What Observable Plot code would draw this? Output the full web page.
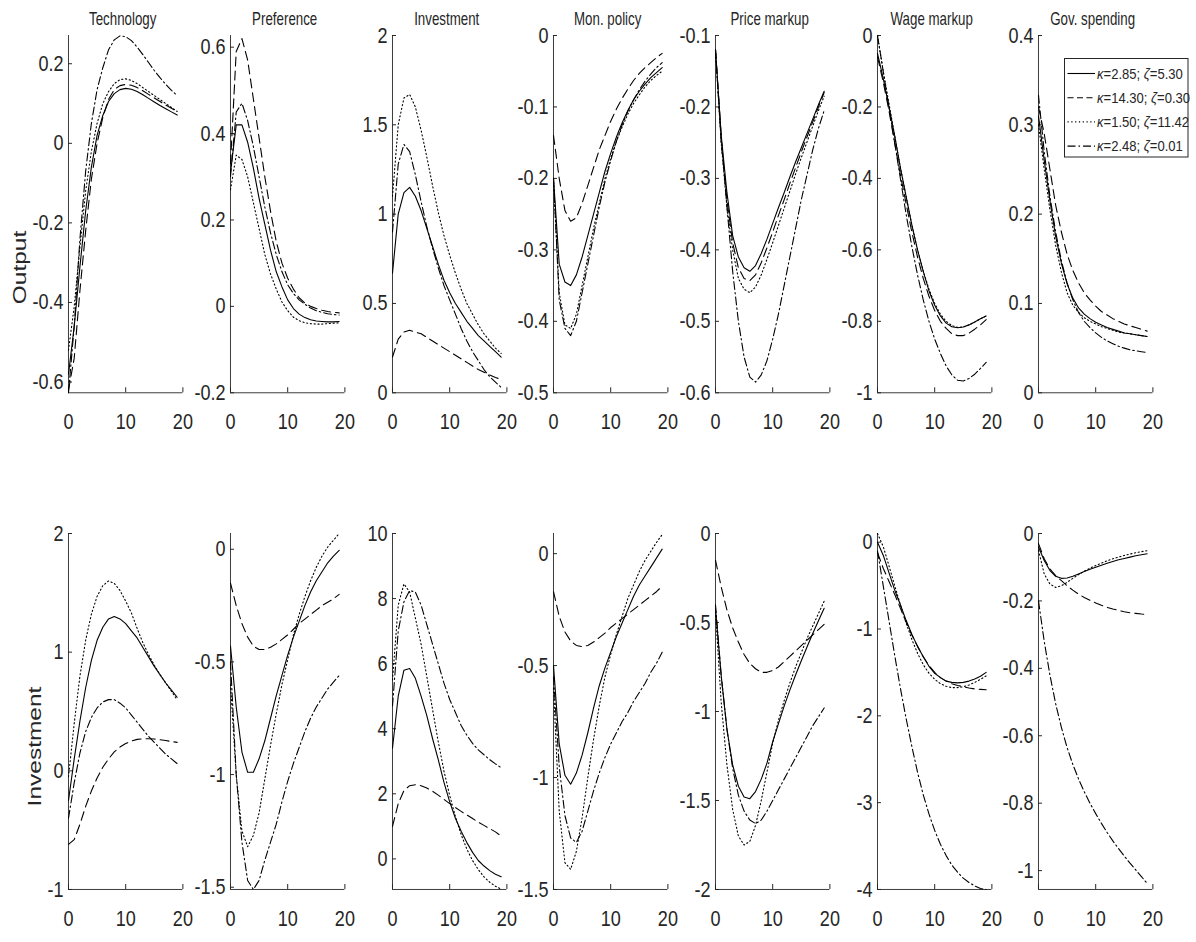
<!DOCTYPE html>
<html>
<head>
<meta charset="utf-8">
<script src="https://cdn.jsdelivr.net/npm/d3@7"></script>
<script src="https://cdn.jsdelivr.net/npm/@observablehq/plot@0.6"></script>
<style>
  html, body { margin: 0; padding: 0; background: #fff; }
  #fig { position: relative; width: 1196px; height: 942px; overflow: hidden; background: #fff; }
</style>
</head>
<body>
<div id="fig"></div>
<script>
// ---------------- data ----------------
const periods = [0,1,2,3,4,5,6,7,8,9,10,11,12,13,14,15,16,17,18,19];
const shocks = ["Technology","Preference","Investment","Mon. policy","Price markup","Wage markup","Gov. spending"];
const rowVariables = ["Output","Investment"];
const kappaValues = ["2.85","14.30","1.50","2.48"];
const zetaValues = ["5.30","0.30","11.42","0.01"];
const xTicks = [0,10,20];

const outputYDomains = [[-0.627,0.271],[-0.2,0.627],[0,2],[-0.5,0],[-0.6,-0.1],[-1,0],[0,0.4]];
const outputYTicks = [[-0.6,-0.4,-0.2,0,0.2],[-0.2,0,0.2,0.4,0.6],[0,0.5,1,1.5,2],[-0.5,-0.4,-0.3,-0.2,-0.1,0],[-0.6,-0.5,-0.4,-0.3,-0.2,-0.1],[-1,-0.8,-0.6,-0.4,-0.2,0],[0,0.1,0.2,0.3,0.4]];
const investmentYDomains = [[-1,2],[-1.51,0.07],[-0.94,10],[-1.5,0.09],[-2,0],[-4,0.1],[-1.056,0]];
const investmentYTicks = [[-1,0,1,2],[-1.5,-1,-0.5,0],[0,2,4,6,8,10],[-1.5,-1,-0.5,0],[-2,-1.5,-1,-0.5,0],[-4,-3,-2,-1,0],[-1,-0.8,-0.6,-0.4,-0.2,0]];

// each panel: [kappa=2.85 (solid), kappa=14.30 (dashed), kappa=1.50 (dotted), kappa=2.48 (dash-dot)]
const outputTechnology = [
  [-0.58,-0.46,-0.31,-0.17,-0.06,0.02,0.07,0.105,0.125,0.135,0.138,0.136,0.130,0.122,0.113,0.104,0.095,0.087,0.079,0.071],
  [-0.62,-0.54,-0.37,-0.22,-0.09,0.0,0.065,0.11,0.135,0.145,0.148,0.146,0.140,0.132,0.123,0.114,0.105,0.096,0.088,0.080],
  [-0.52,-0.41,-0.26,-0.12,-0.02,0.05,0.10,0.13,0.15,0.16,0.162,0.158,0.150,0.140,0.130,0.120,0.110,0.100,0.090,0.080],
  [-0.627,-0.46,-0.24,-0.07,0.05,0.135,0.19,0.235,0.26,0.27,0.268,0.258,0.242,0.223,0.203,0.183,0.165,0.148,0.133,0.120]
];
const outputPreference = [
  [0.31,0.42,0.42,0.38,0.32,0.25,0.19,0.13,0.08,0.045,0.015,-0.005,-0.018,-0.026,-0.031,-0.034,-0.035,-0.036,-0.036,-0.035],
  [0.33,0.59,0.62,0.57,0.48,0.39,0.30,0.22,0.15,0.10,0.065,0.04,0.02,0.008,0.0,-0.005,-0.009,-0.012,-0.014,-0.015],
  [0.27,0.35,0.34,0.30,0.24,0.18,0.12,0.075,0.04,0.01,-0.01,-0.025,-0.033,-0.038,-0.04,-0.041,-0.041,-0.040,-0.039,-0.038],
  [0.30,0.45,0.47,0.43,0.37,0.30,0.23,0.17,0.12,0.08,0.05,0.03,0.015,0.005,-0.004,-0.01,-0.014,-0.017,-0.019,-0.02]
];
const outputInvestment = [
  [0.67,1.0,1.12,1.15,1.10,1.02,0.92,0.82,0.72,0.63,0.56,0.50,0.45,0.40,0.36,0.32,0.29,0.26,0.23,0.20],
  [0.20,0.30,0.34,0.35,0.34,0.33,0.31,0.29,0.27,0.25,0.23,0.21,0.19,0.17,0.15,0.13,0.115,0.10,0.085,0.075],
  [1.10,1.50,1.65,1.67,1.60,1.47,1.32,1.16,1.01,0.88,0.77,0.67,0.58,0.50,0.44,0.38,0.33,0.29,0.25,0.22],
  [0.90,1.28,1.39,1.35,1.22,1.07,0.93,0.81,0.70,0.60,0.52,0.44,0.36,0.29,0.23,0.18,0.13,0.09,0.06,0.03]
];
const outputMonPolicy = [
  [-0.20,-0.32,-0.345,-0.35,-0.335,-0.31,-0.28,-0.25,-0.22,-0.19,-0.165,-0.142,-0.122,-0.105,-0.09,-0.078,-0.068,-0.059,-0.052,-0.045],
  [-0.14,-0.20,-0.245,-0.26,-0.255,-0.235,-0.21,-0.185,-0.16,-0.14,-0.12,-0.103,-0.088,-0.075,-0.063,-0.053,-0.045,-0.038,-0.031,-0.025],
  [-0.20,-0.36,-0.405,-0.41,-0.39,-0.35,-0.31,-0.27,-0.235,-0.20,-0.172,-0.148,-0.128,-0.11,-0.095,-0.083,-0.072,-0.063,-0.056,-0.05],
  [-0.20,-0.37,-0.41,-0.42,-0.40,-0.36,-0.32,-0.28,-0.24,-0.205,-0.175,-0.148,-0.125,-0.106,-0.09,-0.076,-0.064,-0.054,-0.045,-0.038]
];
const outputPriceMarkup = [
  [-0.12,-0.24,-0.32,-0.38,-0.41,-0.425,-0.43,-0.422,-0.405,-0.385,-0.363,-0.341,-0.32,-0.298,-0.277,-0.257,-0.237,-0.217,-0.197,-0.178],
  [-0.12,-0.25,-0.33,-0.39,-0.425,-0.44,-0.443,-0.435,-0.418,-0.397,-0.375,-0.352,-0.33,-0.307,-0.285,-0.263,-0.242,-0.221,-0.20,-0.18],
  [-0.12,-0.25,-0.34,-0.40,-0.44,-0.455,-0.46,-0.452,-0.435,-0.413,-0.39,-0.366,-0.342,-0.318,-0.294,-0.271,-0.249,-0.227,-0.205,-0.185],
  [-0.12,-0.24,-0.34,-0.43,-0.50,-0.55,-0.578,-0.585,-0.575,-0.555,-0.525,-0.49,-0.45,-0.41,-0.37,-0.33,-0.295,-0.26,-0.23,-0.205]
];
const outputWageMarkup = [
  [-0.05,-0.12,-0.20,-0.28,-0.37,-0.45,-0.53,-0.60,-0.66,-0.715,-0.755,-0.785,-0.805,-0.815,-0.818,-0.816,-0.81,-0.802,-0.793,-0.785],
  [-0.06,-0.13,-0.21,-0.30,-0.39,-0.47,-0.55,-0.62,-0.68,-0.73,-0.77,-0.80,-0.82,-0.835,-0.84,-0.84,-0.833,-0.822,-0.81,-0.795],
  [0.0,-0.10,-0.19,-0.28,-0.37,-0.45,-0.53,-0.60,-0.66,-0.71,-0.75,-0.78,-0.80,-0.812,-0.817,-0.816,-0.81,-0.802,-0.793,-0.785],
  [0.0,-0.10,-0.20,-0.30,-0.40,-0.50,-0.59,-0.67,-0.74,-0.80,-0.85,-0.89,-0.925,-0.95,-0.965,-0.967,-0.96,-0.948,-0.932,-0.915]
];
const outputGovSpending = [
  [0.31,0.26,0.215,0.175,0.145,0.122,0.106,0.095,0.088,0.083,0.079,0.076,0.073,0.071,0.069,0.067,0.066,0.065,0.064,0.063],
  [0.32,0.29,0.25,0.21,0.18,0.155,0.137,0.123,0.112,0.104,0.097,0.091,0.087,0.083,0.08,0.077,0.075,0.073,0.071,0.069],
  [0.30,0.25,0.205,0.165,0.135,0.112,0.098,0.09,0.084,0.08,0.077,0.074,0.072,0.07,0.068,0.067,0.066,0.065,0.064,0.063],
  [0.333,0.27,0.22,0.18,0.148,0.123,0.104,0.09,0.08,0.073,0.067,0.062,0.058,0.055,0.052,0.05,0.048,0.047,0.046,0.045]
];

const investmentTechnology = [
  [-0.25,0.10,0.42,0.70,0.93,1.10,1.21,1.28,1.30,1.28,1.24,1.18,1.12,1.04,0.96,0.88,0.81,0.74,0.68,0.62],
  [-0.62,-0.58,-0.45,-0.30,-0.17,-0.06,0.03,0.10,0.16,0.20,0.23,0.25,0.265,0.27,0.27,0.268,0.262,0.255,0.247,0.24],
  [-0.05,0.40,0.80,1.10,1.32,1.47,1.56,1.60,1.58,1.52,1.43,1.33,1.20,1.08,0.98,0.89,0.81,0.74,0.67,0.60],
  [-0.40,-0.10,0.15,0.33,0.45,0.53,0.58,0.60,0.60,0.57,0.53,0.47,0.41,0.35,0.29,0.24,0.19,0.14,0.10,0.06]
];
const investmentPreference = [
  [-0.43,-0.70,-0.90,-0.99,-0.99,-0.93,-0.85,-0.75,-0.65,-0.56,-0.47,-0.39,-0.32,-0.25,-0.19,-0.14,-0.10,-0.06,-0.03,-0.005],
  [-0.15,-0.25,-0.33,-0.39,-0.43,-0.445,-0.445,-0.435,-0.42,-0.40,-0.38,-0.355,-0.33,-0.31,-0.29,-0.27,-0.25,-0.235,-0.22,-0.20],
  [-0.60,-1.00,-1.25,-1.32,-1.27,-1.17,-1.02,-0.87,-0.73,-0.60,-0.49,-0.38,-0.29,-0.21,-0.14,-0.08,-0.03,0.01,0.04,0.07],
  [-0.50,-1.00,-1.30,-1.47,-1.51,-1.47,-1.38,-1.30,-1.22,-1.12,-1.03,-0.95,-0.88,-0.81,-0.75,-0.70,-0.66,-0.62,-0.59,-0.56]
];
const investmentInvestment = [
  [3.4,5.0,5.8,5.85,5.55,5.0,4.4,3.7,3.05,2.35,1.75,1.25,0.85,0.5,0.2,-0.05,-0.22,-0.36,-0.47,-0.55],
  [1.0,1.7,2.1,2.25,2.28,2.25,2.18,2.08,1.96,1.83,1.70,1.58,1.46,1.35,1.24,1.13,1.03,0.93,0.83,0.70],
  [5.5,7.8,8.45,8.2,7.4,6.6,5.6,4.6,3.6,2.7,1.95,1.3,0.75,0.3,-0.05,-0.33,-0.55,-0.72,-0.84,-0.93],
  [4.7,7.0,7.9,8.25,8.2,7.8,7.2,6.6,6.0,5.4,4.9,4.5,4.1,3.8,3.55,3.35,3.2,3.05,2.92,2.8]
];
const investmentMonPolicy = [
  [-0.50,-0.85,-0.99,-1.03,-0.98,-0.90,-0.80,-0.69,-0.59,-0.51,-0.44,-0.37,-0.31,-0.25,-0.19,-0.14,-0.10,-0.06,-0.02,0.02],
  [-0.17,-0.28,-0.35,-0.39,-0.41,-0.415,-0.41,-0.395,-0.375,-0.355,-0.33,-0.31,-0.29,-0.27,-0.25,-0.23,-0.21,-0.19,-0.17,-0.145],
  [-0.60,-1.15,-1.38,-1.41,-1.33,-1.18,-1.00,-0.83,-0.68,-0.55,-0.45,-0.36,-0.28,-0.20,-0.14,-0.08,-0.03,0.01,0.05,0.085],
  [-0.55,-0.95,-1.17,-1.27,-1.29,-1.24,-1.15,-1.06,-0.98,-0.91,-0.85,-0.80,-0.75,-0.71,-0.66,-0.62,-0.58,-0.53,-0.49,-0.44]
];
const investmentPriceMarkup = [
  [-0.42,-0.80,-1.10,-1.30,-1.42,-1.48,-1.49,-1.45,-1.38,-1.29,-1.17,-1.07,-0.97,-0.88,-0.795,-0.715,-0.638,-0.562,-0.49,-0.42],
  [-0.15,-0.30,-0.43,-0.53,-0.61,-0.68,-0.73,-0.76,-0.78,-0.78,-0.77,-0.75,-0.72,-0.69,-0.66,-0.63,-0.60,-0.57,-0.54,-0.51],
  [-0.44,-0.95,-1.30,-1.55,-1.70,-1.75,-1.73,-1.64,-1.50,-1.34,-1.18,-1.05,-0.94,-0.84,-0.75,-0.67,-0.59,-0.52,-0.45,-0.38],
  [-0.40,-0.80,-1.10,-1.32,-1.47,-1.56,-1.61,-1.63,-1.61,-1.56,-1.50,-1.44,-1.38,-1.32,-1.26,-1.20,-1.14,-1.08,-1.03,-0.98]
];
const investmentWageMarkup = [
  [0.0,-0.15,-0.35,-0.55,-0.72,-0.90,-1.06,-1.20,-1.32,-1.43,-1.51,-1.56,-1.60,-1.615,-1.62,-1.615,-1.60,-1.575,-1.545,-1.50],
  [-0.12,-0.30,-0.45,-0.60,-0.76,-0.92,-1.07,-1.20,-1.32,-1.42,-1.50,-1.56,-1.60,-1.63,-1.65,-1.665,-1.68,-1.69,-1.695,-1.70],
  [0.10,-0.05,-0.27,-0.50,-0.72,-0.93,-1.12,-1.28,-1.41,-1.51,-1.58,-1.63,-1.66,-1.675,-1.675,-1.665,-1.645,-1.615,-1.58,-1.54],
  [-0.10,-0.50,-0.90,-1.30,-1.68,-2.03,-2.35,-2.65,-2.91,-3.13,-3.32,-3.48,-3.61,-3.72,-3.80,-3.87,-3.92,-3.96,-3.99,-4.0]
];
const investmentGovSpending = [
  [-0.04,-0.08,-0.11,-0.127,-0.133,-0.132,-0.127,-0.12,-0.113,-0.106,-0.10,-0.094,-0.088,-0.083,-0.078,-0.074,-0.07,-0.066,-0.063,-0.06],
  [-0.03,-0.075,-0.105,-0.125,-0.14,-0.155,-0.168,-0.18,-0.19,-0.198,-0.206,-0.213,-0.219,-0.224,-0.228,-0.232,-0.235,-0.237,-0.239,-0.24],
  [-0.05,-0.12,-0.15,-0.16,-0.155,-0.145,-0.133,-0.122,-0.112,-0.103,-0.095,-0.088,-0.081,-0.075,-0.07,-0.065,-0.061,-0.057,-0.054,-0.051],
  [-0.20,-0.32,-0.42,-0.505,-0.575,-0.635,-0.685,-0.728,-0.766,-0.80,-0.831,-0.86,-0.887,-0.912,-0.935,-0.957,-0.978,-0.998,-1.018,-1.038]
];

const outputPanels = [outputTechnology,outputPreference,outputInvestment,outputMonPolicy,outputPriceMarkup,outputWageMarkup,outputGovSpending];
const investmentPanels = [investmentTechnology,investmentPreference,investmentInvestment,investmentMonPolicy,investmentPriceMarkup,investmentWageMarkup,investmentGovSpending];

// ---------------- layout & style ----------------
const AX_LEFT = [68.3,230,391.7,552.7,715,876.7,1037.7];
const AX_W = 114.4;
const ROW_TOP = [35,533];
const ROW_BOTTOM = [392.3,889];
const M = {l: 62, r: 14, t: 46, b: 52};
const INK = "#262626";
const AXIS = "#3c3c3c";
const FONT = '"Liberation Sans", Arial, Helvetica, sans-serif';
const SQUEEZE = 0.74;       // titles and row labels
const TICK_SQUEEZE = 0.82;  // tick labels
const TICK_FONT = 22;
const DASH = [null, "9,5", "1.2,2.6", "8,3,1.5,3"];
const fig = document.getElementById("fig");

function condense(svg) {
  svg.querySelectorAll("text").forEach(t => {
    const g = t.closest("g");
    const lab = g ? (g.getAttribute("aria-label") || "") : "";
    const isTick = lab.includes("tick label");
    if (isTick) {
      t.setAttribute("font-size", TICK_FONT);
      t.style.fontSize = TICK_FONT + "px";
    }
    const k = isTick ? TICK_SQUEEZE : SQUEEZE;
    const tr = t.getAttribute("transform");
    if (tr) {
      t.setAttribute("transform", tr + ` scale(${k},1)`);
    } else {
      const x = +(t.getAttribute("x") || 0), y = +(t.getAttribute("y") || 0);
      t.removeAttribute("x"); t.removeAttribute("y");
      t.setAttribute("transform", `translate(${x},${y}) scale(${k},1)`);
    }
  });
}

function drawPanel(row, col, series, domain, ticks, title) {
  const axH = ROW_BOTTOM[row] - ROW_TOP[row];
  const marks = [
    Plot.ruleX([0], {stroke: AXIS, strokeWidth: 1}),
    Plot.ruleY([domain[0]], {stroke: AXIS, strokeWidth: 1}),
    Plot.axisY({ticks, tickSize: -4, tickPadding: 9, tickFormat: d => String(d), fontSize: TICK_FONT, color: INK, label: null}),
    Plot.axisX({ticks: xTicks, tickSize: -5, tickPadding: 25.5, tickFormat: d => String(d), fontSize: TICK_FONT, color: INK, label: null}),
    ...series.map((vals, k) => Plot.line(
      periods.map((t, i) => ({t, v: vals[i]})),
      {x: "t", y: "v", stroke: "#000", strokeWidth: 1.1, strokeDasharray: DASH[k] || undefined}
    ))
  ];
  if (title) {
    marks.push(Plot.text([title], {text: d => d, frameAnchor: "top", lineAnchor: "bottom", dy: -10, dx: -3, fontSize: 18, fill: INK}));
  }
  const svg = Plot.plot({
    width: M.l + AX_W + M.r,
    height: M.t + axH + M.b,
    marginLeft: M.l, marginRight: M.r, marginTop: M.t, marginBottom: M.b,
    x: {domain: [0, 20], label: null},
    y: {domain, label: null},
    style: {background: "transparent", fontFamily: FONT, overflow: "visible", color: INK},
    marks
  });
  condense(svg);
  svg.style.position = "absolute";
  svg.style.left = (AX_LEFT[col] - M.l) + "px";
  svg.style.top = (ROW_TOP[row] - M.t) + "px";
  svg.style.maxWidth = "none";
  fig.appendChild(svg);
}

shocks.forEach((s, c) => drawPanel(0, c, outputPanels[c], outputYDomains[c], outputYTicks[c], s));
shocks.forEach((s, c) => drawPanel(1, c, investmentPanels[c], investmentYDomains[c], investmentYTicks[c], null));

// ---------------- row labels ----------------
const NS = "http://www.w3.org/2000/svg";
const over = document.createElementNS(NS, "svg");
over.setAttribute("width", 1196); over.setAttribute("height", 942);
over.style.cssText = "position:absolute;left:0;top:0;pointer-events:none;overflow:visible";
const rowLabelPos = [[19, 267.5], [34, 746.5]];
rowVariables.forEach((name, r) => {
  const t = document.createElementNS(NS, "text");
  t.textContent = name;
  t.setAttribute("transform", `translate(${rowLabelPos[r][0]},${rowLabelPos[r][1]}) rotate(-90) scale(1,${SQUEEZE})`);
  t.setAttribute("text-anchor", "middle");
  t.setAttribute("dy", "0.36em");
  t.setAttribute("font-size", "24.5");
  t.setAttribute("font-family", FONT);
  t.setAttribute("fill", INK);
  over.appendChild(t);
});
fig.appendChild(over);

// ---------------- legend ----------------
const leg = document.createElementNS(NS, "svg");
leg.setAttribute("width", 125); leg.setAttribute("height", 100);
leg.style.cssText = "position:absolute;left:1064px;top:58px;overflow:visible";
const box = document.createElementNS(NS, "rect");
box.setAttribute("x", 0.5); box.setAttribute("y", 0.5); box.setAttribute("width", 123.5); box.setAttribute("height", 98.5);
box.setAttribute("fill", "#fff"); box.setAttribute("stroke", INK); box.setAttribute("stroke-width", 1);
leg.appendChild(box);
kappaValues.forEach((kv, k) => {
  const y = 15.5 + k * 24.2;
  const ln = document.createElementNS(NS, "line");
  ln.setAttribute("x1", 3.5); ln.setAttribute("x2", 31); ln.setAttribute("y1", y); ln.setAttribute("y2", y);
  ln.setAttribute("stroke", "#000"); ln.setAttribute("stroke-width", 1.1);
  if (DASH[k]) ln.setAttribute("stroke-dasharray", k === 1 ? "6,3.5" : DASH[k]);
  leg.appendChild(ln);
  const t = document.createElementNS(NS, "text");
  t.setAttribute("transform", `translate(33,${y}) scale(0.87,1)`);
  t.setAttribute("dy", "0.35em");
  t.setAttribute("font-size", "15");
  t.setAttribute("font-family", FONT);
  t.setAttribute("fill", INK);
  const a = document.createElementNS(NS, "tspan"); a.setAttribute("font-style", "italic"); a.textContent = "κ";
  const b = document.createElementNS(NS, "tspan"); b.textContent = `=${kv}; `;
  const c = document.createElementNS(NS, "tspan"); c.setAttribute("font-style", "italic"); c.textContent = "ζ";
  const d = document.createElementNS(NS, "tspan"); d.textContent = `=${zetaValues[k]}`;
  t.append(a, b, c, d);
  leg.appendChild(t);
});
fig.appendChild(leg);
</script>
</body>
</html>
